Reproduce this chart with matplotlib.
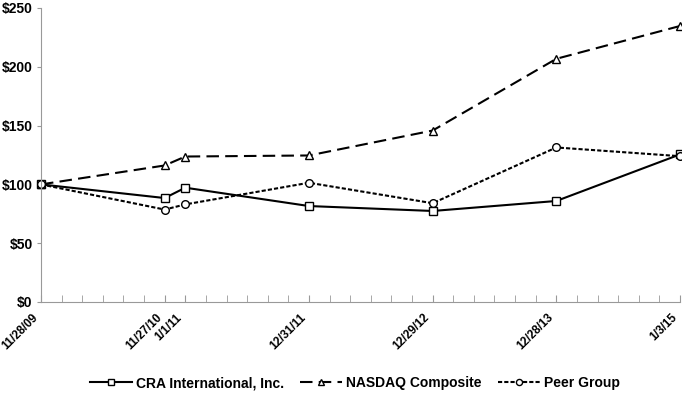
import matplotlib.pyplot as plt

plt.rcParams['font.family'] = ['Liberation Sans', 'DejaVu Sans']

dates = ["11/28/09", "11/27/10", "1/1/11", "12/31/11", "12/29/12", "12/28/13", "1/3/15"]
# positions on the (two-month) category axis used by the original chart
pos = [0, 6, 7, 13, 19, 25, 31]

cra = [100, 88.4, 97.2, 81.6, 77.4, 85.9, 125.5]
nasdaq = [100, 116.1, 123.7, 124.6, 145.8, 206.8, 234.7]
peer = [100, 78.6, 83.0, 101.4, 84.0, 131.4, 124.0]

fig = plt.figure(figsize=(6.82, 3.97), dpi=100)
ax = fig.add_axes([41/682, 1 - 302/397, 639/682, 294/397])

style = dict(color="black", lw=1.5, ms=5.5, mfc="white", mec="black",
             mew=1, clip_on=False)
ax.plot(pos, cra, ls="-", marker="s", label="CRA International, Inc.", **style)
ax.plot(pos, nasdaq, ls=(0, (6, 3)), marker="^", label="NASDAQ Composite", **style)
ax.plot(pos, peer, ls=(0, (2, 1)), marker="o", label="Peer Group", **style)

ax.set_xlim(0, 31)
ax.set_ylim(0, 250)
ax.set_yticks(range(0, 251, 50))
ax.set_yticklabels(["$" + str(v) for v in range(0, 251, 50)],
                   fontsize=10, fontweight="bold")
ax.tick_params(axis="y", direction="out", length=3, color="#999999", pad=3)

# date labels drawn as text so they can sit just left of their tick
ax.set_xticks(pos)
ax.set_xticklabels([])
ax.set_xticks(range(0, 32), minor=True)
ax.tick_params(axis="x", which="both", direction="in", length=5,
               color="#999999")
for p, d in zip(pos, dates):
    ax.annotate(d, xy=(p, 0), xycoords=("data", "axes fraction"),
                xytext=(-6.5, -7), textcoords="offset points",
                rotation=45, rotation_mode="anchor", ha="right", va="top",
                fontsize=8.5, fontweight="bold", annotation_clip=False)

for s in ["top", "right"]:
    ax.spines[s].set_visible(False)
for s in ["left", "bottom"]:
    ax.spines[s].set_color("#999999")

fig.legend(loc="center", bbox_to_anchor=(355/682, 1 - 383/397), ncol=3,
           frameon=False, handlelength=3.0, handletextpad=0.3,
           columnspacing=1.2, markerscale=0.8,
           prop={"weight": "bold", "size": 10})

fig.savefig("out.png", dpi=100)
